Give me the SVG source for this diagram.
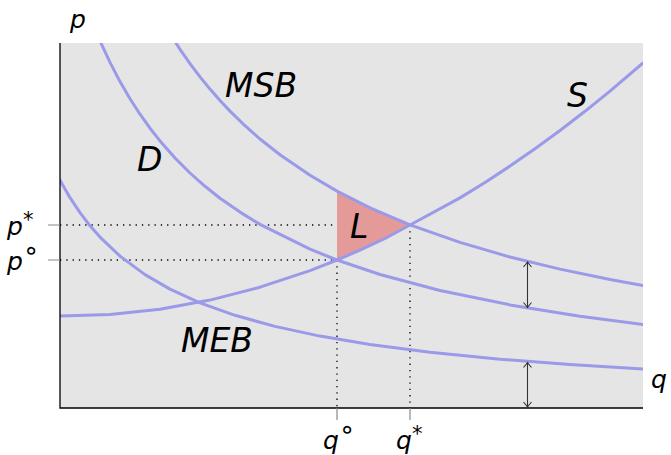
<svg xmlns="http://www.w3.org/2000/svg" width="671" height="455" viewBox="0 0 671 455">
<style>
.curve{fill:none;stroke:#9a9ae8;stroke-width:3;stroke-linejoin:round;stroke-linecap:round}
.dot{fill:none;stroke:#000;stroke-width:1.3;stroke-dasharray:1.3 5}
.tick{stroke:#8a8a8a;stroke-width:1.2}
.arr{stroke:#333;stroke-width:1.1;fill:none;marker-start:url(#ah);marker-end:url(#ah)}
text{font-family:"DejaVu Sans",sans-serif;font-style:italic;fill:#000}
.sup{font-style:normal}
</style>
<defs>
<clipPath id="plot"><rect x="60" y="43" width="583" height="365"/></clipPath>
<marker id="ah" viewBox="-6 -5 8 10" markerWidth="8" markerHeight="10" refX="0" refY="0" orient="auto-start-reverse" markerUnits="userSpaceOnUse">
<path d="M-5,-4 Q-1.5,-1 0,0 Q-1.5,1 -5,4" fill="none" stroke="#333" stroke-width="1.1"/>
</marker>
</defs>
<rect id="plot-area" x="60" y="43" width="583" height="365" fill="#e5e5e5"/>
<g id="connectors">
<path class="dot" d="M60,225 H410 M60,260 H337 M337,260 V408 M410,225 V408"/>
</g>
<g id="deadweight-loss">
<path d="M337,191.1 L370,207.8 L410,225 L385,238.5 L360,250.1 L337,260 Z" fill="#e59a9a"/>
</g>
<g id="curves" clip-path="url(#plot)">
<path id="curve-D" class="curve" d="M95,29 L101,43.1 L110,62.4 L120,81.6 L130,98.8 L140,114.2 L150,128.2 L160,140.9 L175,158 L190,173 L205,186.3 L220,198.2 L240,212.1 L260,224.4 L310,249.2 L337,260 L380,274.5 L440,290.5 L510,304.9 L580,316.2 L643,324.4"/>
<path id="curve-MSB" class="curve" d="M170,33.7 L180,49.3 L190,63.6 L200,76.9 L210,89.1 L220,100.5 L230,111.1 L245,125.7 L260,139 L280,154.8 L310,175.3 L337,191.1 L370,207.8 L410,224.8 L460,242.4 L510,257 L560,269.1 L610,279.5 L643,285.5"/>
<path id="curve-MEB" class="curve" d="M60,180.2 L70,197.7 L80,212.7 L90,225.8 L100,237.1 L120,256.1 L145,274.6 L170,289.1 L200,302.9 L235,315.3 L275,326.4 L320,336.1 L370,344.4 L430,352.2 L500,359.2 L570,364.6 L643,369.1"/>
<path id="curve-S" class="curve" d="M60,316 L110,314.5 L160,309.2 L210,300.1 L260,287.2 L310,270.6 L337,260 L360,250.1 L385,238.5 L410,225 L460,197.9 L485,182.5 L510,166.1 L535,148.7 L560,130.5 L585,111.3 L610,91.1 L643,63"/>
</g>
<g id="axes">
<path d="M60,43 V408 H643" fill="none" stroke="#000" stroke-width="1.3"/>
<path class="tick" d="M48,225 H60 M48,260 H60 M337,408 V420 M410,408 V420"/>
</g>
<g id="arrows">
<line class="arr" x1="527.5" y1="262" x2="527.5" y2="307.5"/>
<line class="arr" x1="527.5" y1="362.5" x2="527.5" y2="407"/>
</g>
<g id="labels">
<text x="70" y="28" font-size="25">p</text>
<text x="651" y="388" font-size="25">q</text>
<text x="225" y="97" font-size="33">MSB</text>
<text x="137" y="171" font-size="33">D</text>
<text x="567" y="107" font-size="33">S</text>
<text x="350" y="238" font-size="33">L</text>
<text x="181" y="352" font-size="33">MEB</text>
<text x="7" y="235" font-size="25">p<tspan class="sup" font-size="21" dy="-8">*</tspan></text>
<text x="7" y="270" font-size="25">p<tspan class="sup" font-size="26" dy="-11">∘</tspan></text>
<text x="323" y="449" font-size="25">q<tspan class="sup" font-size="26" dy="-11">∘</tspan></text>
<text x="396" y="449" font-size="25">q<tspan class="sup" font-size="21" dy="-8">*</tspan></text>
</g>
</svg>
